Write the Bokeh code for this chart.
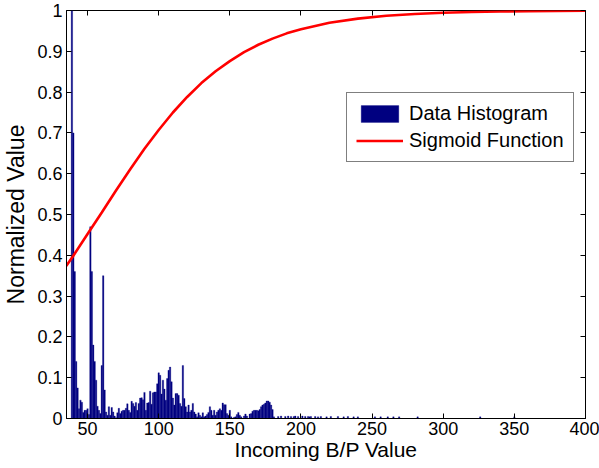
from bokeh.plotting import figure
from bokeh.models import Range1d, LinearAxis, FixedTicker, Legend, LegendItem
from bokeh.embed import file_html
from bokeh.resources import INLINE

# Histogram bins (bin centres, B/P value) and normalized counts
hist_x = list(range(39, 182)) + [184, 186, 189, 191, 193, 195, 196, 198, 201, 203, 205, 206,
                                  207, 210, 212, 214, 218, 221, 226, 230, 233, 237, 240, 252,
                                  256, 261, 265, 269, 282, 326, 350]
hist_y = [1.0, 0.70, 0.36, 0.14, 0.075, 0.024, 0.045, 0.04, 0.015, 0.02,          # 39-48
          0.02, 0.024, 0.01, 0.47, 0.36, 0.18, 0.14, 0.094, 0.03, 0.02,          # 49-58
          0.012, 0.13, 0.35, 0.07, 0.016, 0.008, 0.029, 0.008, 0.027, 0.016,    # 59-68
          0.006, 0.002, 0.014, 0.025, 0.012, 0.018, 0.02, 0.02, 0.025, 0.036,   # 69-78
          0.02, 0.015, 0.042, 0.037, 0.03, 0.039, 0.02, 0.037, 0.05, 0.051,     # 79-88
          0.046, 0.064, 0.02, 0.038, 0.039, 0.067, 0.035, 0.063, 0.065, 0.065,  # 89-98
          0.085, 0.112, 0.106, 0.06, 0.094, 0.072, 0.045, 0.098, 0.118, 0.126,  # 99-108
          0.09, 0.05, 0.033, 0.061, 0.061, 0.057, 0.037, 0.03, 0.13, 0.049,     # 109-118
          0.029, 0.016, 0.033, 0.016, 0.02, 0.037, 0.016, 0.011, 0.004, 0.014,  # 119-128
          0.008, 0.004, 0.014, 0.004, 0.006, 0.01, 0.015, 0.029, 0.02, 0.008,   # 129-138
          0.02, 0.008, 0.016, 0.02, 0.024, 0.02, 0.038, 0.034, 0.034, 0.012,    # 139-148
          0.008, 0.02, 0.004, 0.0, 0.003, 0.004, 0.01, 0.015, 0.008, 0.004,     # 149-158
          0.0, 0.006, 0.011, 0.006, 0.0, 0.011, 0.012, 0.018, 0.02, 0.02,       # 159-168
          0.02, 0.019, 0.022, 0.029, 0.033, 0.035, 0.038, 0.043, 0.043, 0.04,   # 169-178
          0.033, 0.022, 0.004,                                                   # 179-181
          0.005, 0.006, 0.005, 0.006, 0.005, 0.005, 0.006, 0.005, 0.006, 0.005,
          0.005, 0.004, 0.005, 0.005, 0.004, 0.005, 0.004, 0.005, 0.005, 0.004,
          0.005, 0.004, 0.004, 0.004, 0.004, 0.004, 0.004, 0.004, 0.004, 0.004,
          0.004]

# Sigmoid curve values
sig_x = [35, 40, 50, 60, 70, 80, 90, 100, 110, 120, 130, 140, 150, 160, 170, 180,
         190, 200, 220, 240, 260, 280, 300, 320, 340, 360, 380, 400]
sig_y = [0.374, 0.399, 0.452, 0.505, 0.559, 0.611, 0.661, 0.707, 0.750, 0.788, 0.822,
         0.851, 0.876, 0.898, 0.916, 0.931, 0.944, 0.954, 0.970, 0.980, 0.987, 0.9915,
         0.9944, 0.9964, 0.9976, 0.9985, 0.999, 0.9993]

x_ticks = [50, 100, 150, 200, 250, 300, 350, 400]
y_ticks = [0, 0.1, 0.2, 0.3, 0.4, 0.5, 0.6, 0.7, 0.8, 0.9, 1]
y_tick_labels = {0: "0", 0.1: "0.1", 0.2: "0.2", 0.3: "0.3", 0.4: "0.4", 0.5: "0.5",
                 0.6: "0.6", 0.7: "0.7", 0.8: "0.8", 0.9: "0.9", 1: "1"}

FONT = "Liberation Sans"

p = figure(width=599, height=468, output_backend="svg", toolbar_location=None,
           x_range=Range1d(35.2, 400), y_range=Range1d(0, 1),
           min_border_left=65, min_border_right=14, min_border_top=10, min_border_bottom=50,
           background_fill_color="white", border_fill_color="white")
p.outline_line_color = "black"
p.outline_line_width = 1
p.xgrid.visible = False
p.ygrid.visible = False

bars = p.vbar(x=hist_x, width=1.0, top=hist_y, bottom=0, fill_color="#000080",
              line_color="#000080", line_width=0.3)
curve = p.line(sig_x, sig_y, line_color="#FF0000", line_width=2.6)

for ax in (p.xaxis[0], p.yaxis[0]):
    ax.major_tick_in = 5
    ax.major_tick_out = 0
    ax.minor_tick_in = 0
    ax.minor_tick_out = 0
    ax.major_label_text_font = FONT
    ax.major_label_text_font_size = "18px"
    ax.major_label_text_color = "black"
    ax.axis_label_text_font = FONT
    ax.axis_label_text_font_style = "normal"
    ax.axis_label_text_color = "black"
    ax.axis_line_color = "black"
    ax.major_tick_line_color = "black"

p.xaxis[0].ticker = FixedTicker(ticks=x_ticks)
p.yaxis[0].ticker = FixedTicker(ticks=y_ticks)
p.yaxis[0].major_label_overrides = y_tick_labels
p.xaxis[0].axis_label = "Incoming B/P Value"
p.yaxis[0].axis_label = "Normalized Value"
p.xaxis[0].axis_label_text_font_size = "21px"
p.yaxis[0].axis_label_text_font_size = "23px"
p.xaxis[0].major_label_standoff = 3
p.yaxis[0].major_label_standoff = 4
p.xaxis[0].axis_label_standoff = 0
p.yaxis[0].axis_label_standoff = 5

top_ax = LinearAxis(ticker=FixedTicker(ticks=x_ticks), major_tick_in=5, major_tick_out=0,
                    minor_tick_in=0, minor_tick_out=0,
                    major_label_overrides={t: "" for t in x_ticks},
                    axis_line_color=None, major_tick_line_color="black")
right_ax = LinearAxis(ticker=FixedTicker(ticks=y_ticks), major_tick_in=5, major_tick_out=0,
                      minor_tick_in=0, minor_tick_out=0,
                      major_label_overrides={t: "" for t in y_ticks},
                      axis_line_color=None, major_tick_line_color="black")
p.add_layout(top_ax, "above")
p.add_layout(right_ax, "right")

legend = Legend(items=[LegendItem(label="Data Histogram", renderers=[bars]),
                       LegendItem(label="Sigmoid Function", renderers=[curve])],
                location=(280, 256))
legend.label_text_font = FONT
legend.label_text_font_size = "20px"
legend.label_text_color = "black"
legend.glyph_width = 47
legend.glyph_height = 21
legend.label_standoff = 6
legend.spacing = 4
legend.padding = 9
legend.margin = 0
legend.border_line_color = "black"
legend.border_line_width = 1
legend.background_fill_alpha = 1
p.add_layout(legend, "center")

open("out.html", "w").write(file_html(p, INLINE))
